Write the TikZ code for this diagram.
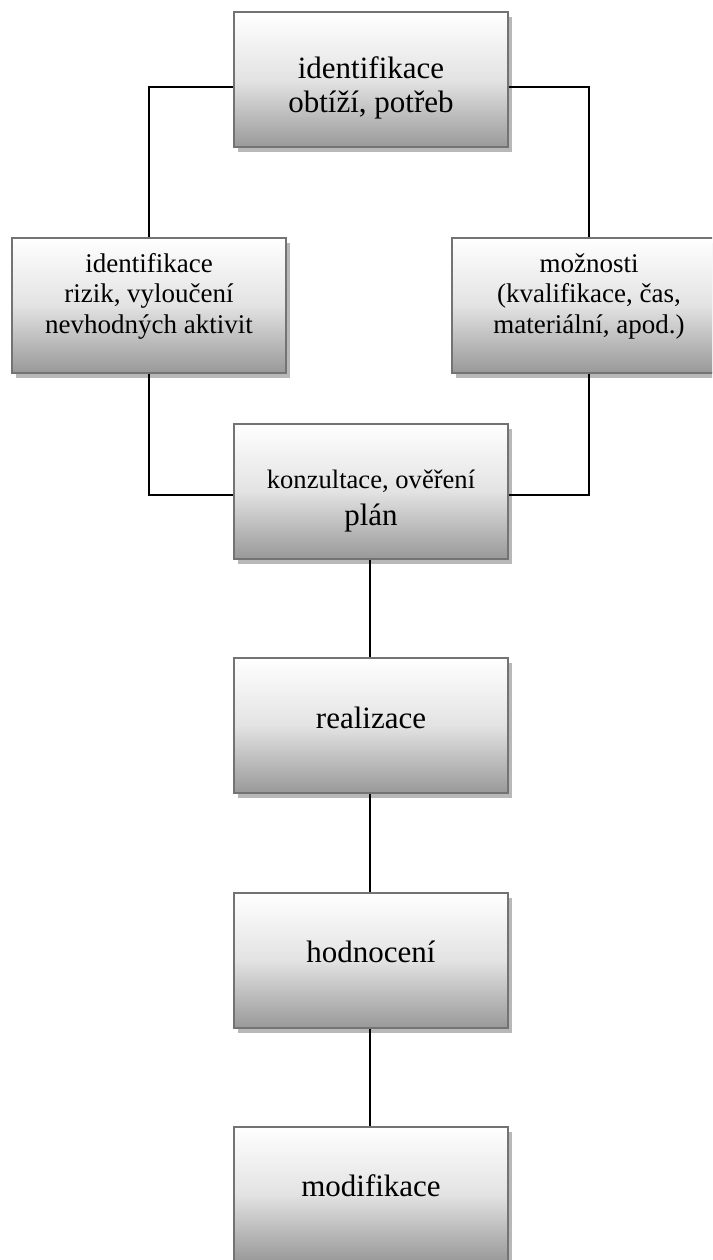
\documentclass[tikz,border=0pt]{standalone}
\usepackage{fontspec}
\setmainfont{Liberation Serif}
\usetikzlibrary{shadows}
\newcommand\myhi[1]{\rule{0pt}{#1pt}}
\newcommand\mylo[1]{\rule[-#1pt]{0pt}{#1pt}}
\begin{document}
\begin{tikzpicture}[x=1pt,y=-1pt,
  box/.style={rectangle, draw=black!55, line width=2pt,
    minimum width=274pt, minimum height=135pt, inner sep=0pt,
    align=center, top color=white, bottom color=black!40,
    middle color=black!11,
    general shadow={fill=black!28, shadow xshift=4pt, shadow yshift=-5pt}},
  big/.style={font=\fontsize{31}{34}\selectfont},
  small/.style={font=\fontsize{27}{30.5}\selectfont},
  link/.style={draw=black, line width=1.8pt}]
\clip (0,0) rectangle (712,1260);
\fill[white] (0,0) rectangle (712,1260);
\node[box, big] (top) at (371,80) {\myhi{40}identifikace\\obtíží, potřeb\mylo{9}};
\node[box, small] (left) at (149,305) {\myhi{30}identifikace\\rizik, vyloučení\\nevhodných aktivit\mylo{35}};
\node[box, small] (right) at (589,305) {\myhi{30}možnosti\\(kvalifikace, čas,\\materiální, apod.)\mylo{35}};
\node[box, font=\fontsize{31}{37}\selectfont] (konz) at (371,491) {\myhi{40}{\fontsize{26.6}{37}\selectfont konzultace, ověření}\\plán\mylo{9}};
\node[box, big] (real) at (371,725.5) {\myhi{25}realizace\mylo{20}};
\node[box, big] (hodn) at (371,960) {\myhi{25}hodnocení\mylo{20}};
\node[box, big] (modi) at (371,1194) {\myhi{25}modifikace\mylo{20}};
\draw[link] ([yshift=-7pt]top.west) -| (left.north);
\draw[link] ([yshift=-7pt]top.east) -| (right.north);
\draw[link] (left.south) |- ([yshift=-4pt]konz.west);
\draw[link] (right.south) |- ([yshift=-4pt]konz.east);
\draw[link] ([xshift=-1pt]konz.south) -- ([xshift=-1pt]real.north);
\draw[link] ([xshift=-1pt]real.south) -- ([xshift=-1pt]hodn.north);
\draw[link] ([xshift=-1pt]hodn.south) -- ([xshift=-1pt]modi.north);
\end{tikzpicture}
\end{document}
